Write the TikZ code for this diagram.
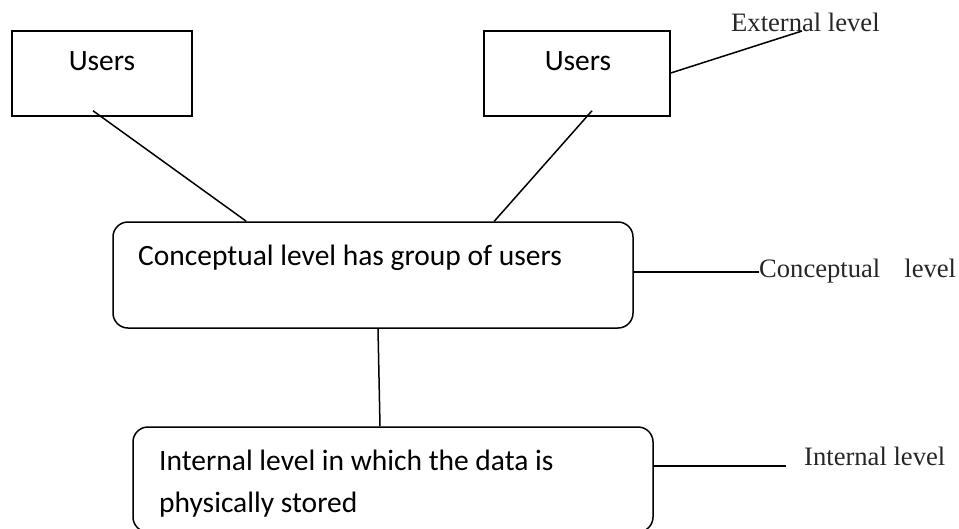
\documentclass[tikz,border=0pt]{standalone}
\usepackage{fontspec}
\setmainfont{Carlito}
\newfontfamily\tnr{Liberation Serif}
\begin{document}
\begin{tikzpicture}[x=1pt,y=-1pt,
  boxtxt/.style={font=\fontsize{29.5}{34}\selectfont, inner sep=0pt},
  lbl/.style={font=\tnr\fontsize{26.6}{30}\selectfont, inner sep=0pt, text=black!85},
  userbox/.style={draw, line width=1.5pt, minimum height=85pt, inner sep=0pt},
  levelbox/.style={draw, line width=1.5pt, rounded corners=15pt, minimum width=520pt, inner sep=0pt},
  conn/.style={line width=1.5pt}]
\useasboundingbox (0,0) rectangle (959,528);
% boxes
\node[userbox, minimum width=180pt] (u1) at (102,73.5) {};
\node[userbox, minimum width=186pt] (u2) at (577,73.5) {};
\node[levelbox, minimum height=106pt] (conc) at (373,275) {};
\node[levelbox, minimum height=105pt] (int) at (393,479.5) {};
% box texts
\node[boxtxt, anchor=base] (u1t) at (102,70) {Users};
\node[boxtxt, anchor=base] (u2t) at (578,70) {Users};
\node[boxtxt, anchor=base west] (conct) at (138,265) {Conceptual level has group of users};
\node[boxtxt, anchor=base west] (intt1) at (159,470) {Internal level in which the data is};
\node[boxtxt, anchor=base west] (intt2) at (159,512) {physically stored};
% level labels
\node[lbl, anchor=base west] (extl) at (731,31) {External level};
\node[lbl, anchor=base west] (concl) at (759,277) {Conceptual\hspace{24pt}level};
\node[lbl, anchor=base west] (intl) at (804,465) {Internal level};
% free ends
\coordinate (extend) at (802,31);
\coordinate (concend) at (759,272);
\coordinate (intend) at (786,466);
% connectors
\draw[conn] ([xshift=-9pt,yshift=6pt]u1.south) -- ([xshift=134pt]conc.north west);
\draw[conn] ([xshift=15pt,yshift=6pt]u2.south) -- ([xshift=382pt]conc.north west);
\draw[conn] ([yshift=0.5pt]u2.east) -- (extend);
\draw[conn] ([yshift=3pt]conc.east) -- (concend);
\draw[conn] ([xshift=5pt]conc.south) -- ([xshift=-13pt]int.north);
\draw[conn] ([yshift=13.5pt]int.east) -- (intend);
\end{tikzpicture}
\end{document}
